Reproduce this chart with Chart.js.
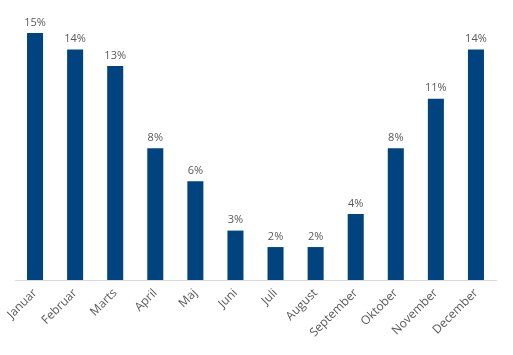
<!DOCTYPE html>
<html>
<head>
<meta charset="utf-8">
<script src="https://cdn.jsdelivr.net/npm/chart.js@4/dist/chart.umd.min.js"></script>
<style>
  html, body { margin: 0; padding: 0; background: #fff; }
  #wrap { width: 513px; height: 355px; position: relative; }
</style>
</head>
<body>
<div id="wrap"><canvas id="myChart"></canvas></div>
<script>
// data (share of the year, %)
const months = ['Januar', 'Februar', 'Marts', 'April', 'Maj', 'Juni', 'Juli', 'August', 'September', 'Oktober', 'November', 'December'];
const shares = [15, 14, 13, 8, 6, 3, 2, 2, 4, 8, 11, 14];
const labelColor = '#595959';
const fontFamily = "'Open Sans', sans-serif";

// percent labels above each bar
const valueLabels = {
  id: 'valueLabels',
  afterDatasetsDraw(chart) {
    const ctx = chart.ctx;
    const meta = chart.getDatasetMeta(0);
    ctx.save();
    ctx.font = `11px ${fontFamily}`;
    ctx.fillStyle = labelColor;
    ctx.textAlign = 'center';
    ctx.textBaseline = 'bottom';
    meta.data.forEach((bar, i) => {
      ctx.fillText(shares[i] + '%', bar.x, bar.y - 5);
    });
    ctx.restore();
  }
};

var ctx = document.getElementById('myChart').getContext('2d');
var myChart = new Chart(ctx, {
  type: 'bar',
  data: {
    labels: months,
    datasets: [
      {
        data: shares,
        backgroundColor: '#00437f',
        categoryPercentage: 1,
        barPercentage: 0.4
      }
    ]
  },
  options: {
    responsive: true,
    maintainAspectRatio: false,
    animation: false,
    layout: {
      padding: { left: 15, right: 17, top: 0, bottom: 0 }
    },
    plugins: {
      legend: { display: false },
      tooltip: { enabled: false }
    },
    scales: {
      x: {
        grid: { display: false, drawTicks: false },
        border: { display: true, color: '#d9d9d9', width: 1 },
        ticks: {
          color: labelColor,
          font: { family: fontFamily, size: 12 },
          maxRotation: 45,
          minRotation: 45,
          padding: 6,
          autoSkip: false
        },
        afterFit(scale) {
          scale.height = 75;
          scale.paddingLeft = 0;
          scale.paddingRight = 0;
        }
      },
      y: {
        display: false,
        min: 0,
        max: 17
      }
    }
  },
  plugins: [valueLabels]
});
</script>
</body>
</html>
